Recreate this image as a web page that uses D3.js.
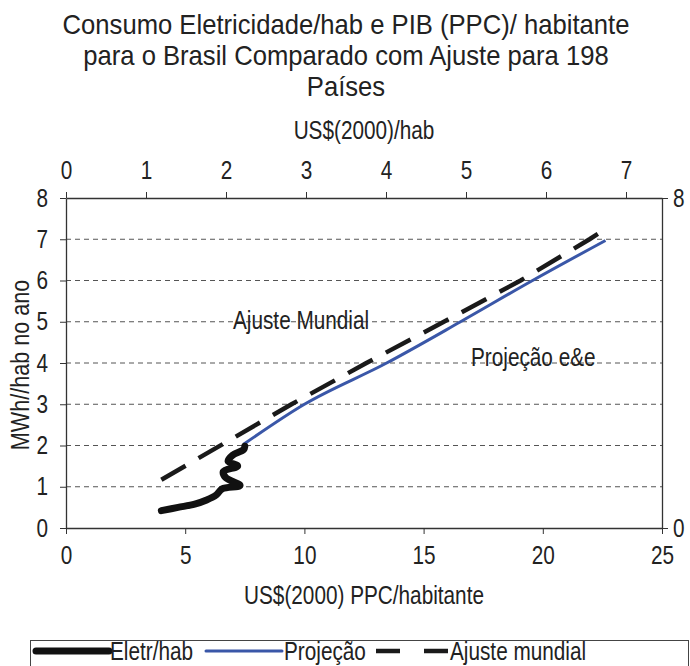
<!DOCTYPE html>
<html>
<head>
<meta charset="utf-8">
<script src="https://cdn.jsdelivr.net/npm/d3@7"></script>
<style>
  body { margin: 0; background: #fff; }
</style>
</head>
<body>
<div id="chart"></div>
<script>
var width = 690;
var height = 666;
var fonte = "'Liberation Sans', Arial, sans-serif";
var tam = 25;
var estreito = 0.83; // fonte do original é mais estreita (tipo Arial Narrow)

// dados
var eletrPib = [4.0, 4.7, 5.4, 5.9, 6.3, 6.55, 7.3, 6.7, 6.6, 7.2, 6.8, 7.0, 7.45, 7.5];
var eletrMwh = [0.42, 0.50, 0.58, 0.68, 0.80, 0.95, 1.03, 1.22, 1.37, 1.50, 1.62, 1.77, 1.90, 1.98];
var projPib = [7.45, 10.0, 13.45, 16.55, 19.57, 22.63];
var projMwh = [2.03, 3.0, 4.0, 5.0, 6.0, 6.97];
var ajustePib = [4.0, 9.46, 12.6, 15.85, 19.07, 21.96, 22.45];
var ajusteMwh = [1.17, 3.0, 4.0, 5.0, 6.0, 7.0, 7.18];

var bottomTicks = [0, 5, 10, 15, 20, 25];
var topTicks = [0, 1, 2, 3, 4, 5, 6, 7];
var leftTicks = [0, 1, 2, 3, 4, 5, 6, 7, 8];
var rightTicks = [0, 8];
var titleLines = ["Consumo Eletricidade/hab e PIB (PPC)/ habitante",
                  "para o Brasil Comparado com Ajuste para 198",
                  "Países"];

var svg = d3.select("#chart").append("svg")
    .attr("width", width)
    .attr("height", height)
    .attr("font-family", fonte);

var plot = { left: 66, right: 662, top: 198, bottom: 528 };

var x = d3.scaleLinear().domain([0, 25]).range([plot.left, plot.right]);
var xTop = d3.scaleLinear().domain([0, 7.45]).range([plot.left, plot.right]);
var y = d3.scaleLinear().domain([0, 8]).range([plot.bottom, plot.top]);

// titulo
svg.append("g").selectAll("text")
    .data(titleLines)
    .enter().append("text")
    .attr("class", "titulo")
    .attr("x", 346)
    .attr("y", function (d, i) { return 34 + i * 31; })
    .attr("text-anchor", "middle")
    .attr("font-size", 28)
    .attr("fill", "#222")
    .text(function (d) { return d; });

// linhas de grade
svg.append("g").selectAll("line")
    .data(leftTicks.filter(function (d) { return d > 0 && d < 8; }))
    .enter().append("line")
    .attr("x1", plot.left).attr("x2", plot.right)
    .attr("y1", function (d) { return y(d); })
    .attr("y2", function (d) { return y(d); })
    .attr("stroke", "#555")
    .attr("stroke-width", 1)
    .attr("stroke-dasharray", "5,4");

// anotações
svg.append("text").attr("x", 233).attr("y", 329)
    .attr("font-size", tam).attr("fill", "#222").text("Ajuste Mundial");
svg.append("text").attr("x", 471).attr("y", 366)
    .attr("font-size", tam).attr("fill", "#222").text("Projeção e&e");

// eixos
function styleAxis(g) {
    g.attr("font-family", fonte);
    g.selectAll("path").attr("stroke", "#333").attr("stroke-width", 1.3);
    g.selectAll("line").attr("stroke", "#333");
    g.selectAll("text").attr("font-size", tam).attr("fill", "#222");
}

svg.append("g")
    .attr("transform", "translate(0," + plot.bottom + ")")
    .call(d3.axisBottom(x).tickValues(bottomTicks).tickSize(6).tickSizeOuter(0).tickPadding(12))
    .call(styleAxis);

svg.append("g")
    .attr("transform", "translate(0," + plot.top + ")")
    .call(d3.axisTop(xTop).tickValues(topTicks).tickSize(6).tickSizeOuter(0).tickPadding(13))
    .call(styleAxis);

svg.append("g")
    .attr("transform", "translate(" + plot.left + ",0)")
    .call(d3.axisLeft(y).tickValues(leftTicks).tickSize(6).tickSizeOuter(0).tickPadding(12))
    .call(styleAxis);

svg.append("g")
    .attr("transform", "translate(" + plot.right + ",0)")
    .call(d3.axisRight(y).tickValues(rightTicks).tickSize(6).tickSizeOuter(0).tickPadding(5))
    .call(styleAxis);

// títulos dos eixos
svg.append("text").attr("x", 364).attr("y", 139)
    .attr("text-anchor", "middle").attr("font-size", tam).attr("fill", "#222").text("US$(2000)/hab");
svg.append("text").attr("x", 364).attr("y", 604)
    .attr("text-anchor", "middle").attr("font-size", tam).attr("fill", "#222").text("US$(2000) PPC/habitante");
svg.append("text")
    .attr("transform", "translate(29,365) rotate(-90)")
    .attr("text-anchor", "middle").attr("font-size", 26).attr("fill", "#222").text("MWh//hab no ano");

// séries
var line = d3.line()
    .x(function (d) { return x(d[0]); })
    .y(function (d) { return y(d[1]); });

svg.append("path")
    .datum(d3.zip(ajustePib, ajusteMwh))
    .attr("d", line)
    .attr("fill", "none")
    .attr("stroke", "#1a1a1a")
    .attr("stroke-width", 4.5)
    .attr("stroke-dasharray", "28,15");

svg.append("path")
    .datum(d3.zip(projPib, projMwh))
    .attr("d", line.curve(d3.curveMonotoneX))
    .attr("fill", "none")
    .attr("stroke", "#3a57a8")
    .attr("stroke-width", 3);

svg.append("path")
    .datum(d3.zip(eletrPib, eletrMwh))
    .attr("d", line.curve(d3.curveCatmullRom.alpha(0.5)))
    .attr("fill", "none")
    .attr("stroke", "#111")
    .attr("stroke-width", 7)
    .attr("stroke-linejoin", "round")
    .attr("stroke-linecap", "round");

// legenda
var legend = svg.append("g");
legend.append("rect")
    .attr("x", 30.5).attr("y", 640.5)
    .attr("width", 658).attr("height", 40)
    .attr("fill", "none").attr("stroke", "#444");

var legendItems = [
    { label: "Eletr/hab", x1: 36, x2: 109, tx: 110, color: "#111", w: 7, dash: null },
    { label: "Projeção", x1: 206, x2: 282, tx: 284, color: "#3a57a8", w: 3, dash: null },
    { label: "Ajuste mundial", x1: 376, x2: 448, tx: 450, color: "#1a1a1a", w: 4.5, dash: "24,24" }
];
legendItems.forEach(function (d) {
    legend.append("line")
        .attr("x1", d.x1).attr("x2", d.x2)
        .attr("y1", 651).attr("y2", 651)
        .attr("stroke", d.color).attr("stroke-width", d.w)
        .attr("stroke-linecap", d.dash ? "butt" : "round")
        .attr("stroke-dasharray", d.dash);
    legend.append("text")
        .attr("x", d.tx).attr("y", 660)
        .attr("font-size", tam).attr("fill", "#222").text(d.label);
});

// estreitar todos os textos (título um pouco menos, a fonte é menor)
svg.selectAll("text").each(function () {
    var f = this.getAttribute("class") === "titulo" ? 0.915 : estreito;
    var L = this.getComputedTextLength();
    this.setAttribute("textLength", L * f);
    this.setAttribute("lengthAdjust", "spacingAndGlyphs");
});
</script>
</body>
</html>
